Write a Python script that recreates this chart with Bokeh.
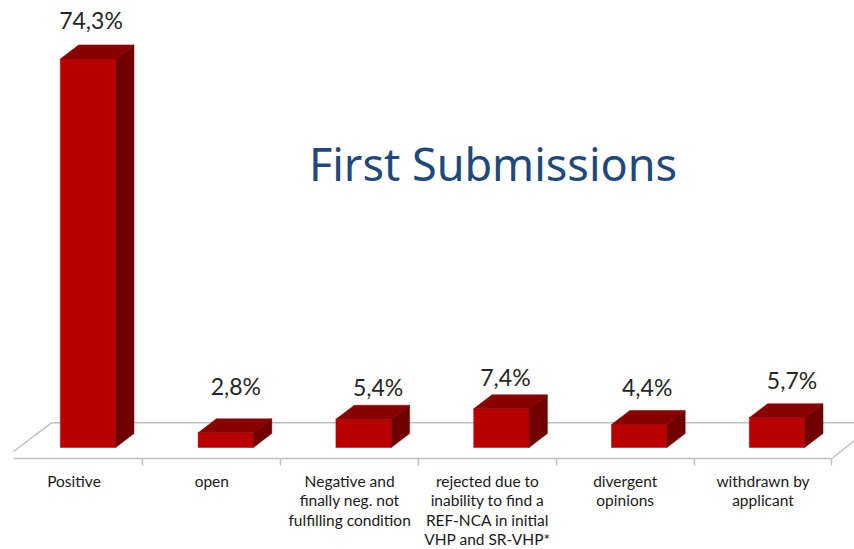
from bokeh.embed import file_html
from bokeh.resources import INLINE
from bokeh.plotting import figure
from bokeh.models import LinearAxis, FixedTicker, Label
from bokeh.core.properties import value

categories = ["Positive", "open", "Negative and\nfinally neg. not\nfulfilling condition",
              "rejected due to\ninability to find a\nREF-NCA in initial\nVHP and SR-VHP*",
              "divergent\nopinions", "withdrawn by\napplicant"]
values = [74.3, 2.8, 5.4, 7.4, 4.4, 5.7]
value_labels = ["74,3%", "2,8%", "5,4%", "7,4%", "4,4%", "5,7%"]

# layout constants (pixel geometry of the picture)
W, H = 854, 549
PX0, PXS = 87.5, 137.8      # first bar centre, category spacing
PY0, PYS = 447.0, 5.23      # zero line, pixels per percent
X = lambda px: (px - PX0) / PXS
Y = lambda py: (PY0 - py) / PYS
HALF = 27.7 / PXS
DX, DY = 18.3 / PXS, 14.0 / PYS
FLOOR_SHIFT = 14.0 / PXS     # the front edge of the floor sits left of the bars
label_dx = [3, 10, 14.5, 4, 8, 15]      # px offset of value label from bar centre
label_gap = [25, 33, 18, 18, 23, 24]    # px gap above the back top edge

FRONT, TOP, SIDE, GRID = "#B80000", "#8A0000", "#700000", "#BFBFBF"

p = figure(width=W, height=H, output_backend="svg", toolbar_location=None,
           x_range=(X(0), X(W)), y_range=(Y(H), Y(0)),
           x_axis_location=None, y_axis_location=None, min_border=0,
           outline_line_color=None, background_fill_color="white")
p.grid.visible = False

# floor
p.line([X(51), X(854)], [Y(422.3), Y(422.3)], line_color=GRID, line_width=1.5)
p.line([X(13), X(51)], [Y(451), Y(422.3)], line_color=GRID, line_width=1.5)
p.line([X(832), X(854)], [Y(457.5), Y(440)], line_color=GRID, line_width=1.5)

axis = LinearAxis(fixed_location=Y(457.5), bounds=(X(13), X(832)),
                  ticker=FixedTicker(ticks=[], minor_ticks=[i + 0.5 - FLOOR_SHIFT for i in range(6)]),
                  axis_line_color=GRID, axis_line_width=1.5,
                  minor_tick_line_color=GRID, minor_tick_line_width=1.5,
                  minor_tick_out=7, minor_tick_in=0,
                  major_tick_line_color=None, major_label_text_color=None)
p.add_layout(axis, "below")

# bars
xs = list(range(len(values)))
p.quad(left=[x - HALF for x in xs], right=[x + HALF for x in xs],
       bottom=[0] * 6, top=values, fill_color=FRONT, line_color=FRONT, line_width=0.5)
p.patches([[x - HALF, x - HALF + DX, x + HALF + DX, x + HALF] for x in xs],
          [[v, v + DY, v + DY, v] for v in values],
          fill_color=TOP, line_color=TOP, line_width=0.5)
p.patches([[x + HALF, x + HALF + DX, x + HALF + DX, x + HALF] for x in xs],
          [[0, DY, v + DY, v] for v, x in zip(values, xs)],
          fill_color=SIDE, line_color=SIDE, line_width=0.5)

# value labels
p.text(x=[x + d / PXS for x, d in zip(xs, label_dx)],
       y=[v + DY + g / PYS for v, g in zip(values, label_gap)],
       text=value_labels, text_font=value("Lato"), text_font_size="23px",
       text_color="#262626", text_align="center", text_baseline="alphabetic")

# category labels
p.text(x=[x - FLOOR_SHIFT for x in xs], y=[Y(471)] * 6, text=categories, text_font=value("Lato"),
       text_font_size="15.5px", text_color="#1A1A1A",
       text_align="center", text_baseline="top", text_line_height=1.09)

# heading
p.add_layout(Label(x=X(492.5), y=Y(162.5), text="First Submissions", text_align="center",
                   text_baseline="alphabetic", text_font="Noto Sans",
                   text_font_size="45px", text_color="#1F497D"))

open("out.html", "w").write(file_html(p, INLINE))
